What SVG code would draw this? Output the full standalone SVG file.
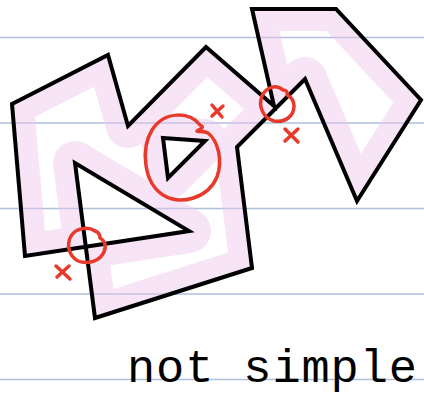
<svg xmlns="http://www.w3.org/2000/svg" width="424" height="408" viewBox="0 0 424 408">
<style>
.rule{stroke:#aebfdc;stroke-width:1.5}
.outline{fill:none;stroke:#000;stroke-width:4;stroke-linejoin:miter;stroke-miterlimit:10}
.band{fill:none;stroke:#eec6ee;stroke-width:44;stroke-linejoin:round;opacity:0.45}
.red{fill:none;stroke:#e8392b;stroke-width:3.5;stroke-linecap:round;stroke-linejoin:round}
.label{font-family:"Liberation Mono","DejaVu Sans Mono",monospace;font-size:47px;fill:#000}
</style>
<defs>
<clipPath id="inside">
<path clip-rule="evenodd" d="M12,104 L108,55 L128,126 L206,47 L274,106 L252,9 L336,9 L421,100 L357,201 L305,79 L237,147 L252,268 L95,318 L75,163 L189,231 L25,256 Z M163,138 L205,141 L168,178 Z"/>
</clipPath>
</defs>
<rect width="424" height="408" fill="#fff"/>
<g id="ruled-lines">
<line class="rule" x1="0" y1="37.5" x2="424" y2="37.5"/>
<line class="rule" x1="0" y1="123" x2="424" y2="123"/>
<line class="rule" x1="0" y1="208.5" x2="424" y2="208.5"/>
<line class="rule" x1="0" y1="294" x2="424" y2="294"/>
<line class="rule" x1="0" y1="379.5" x2="424" y2="379.5"/>
</g>
<g id="highlight" clip-path="url(#inside)">
<path class="band" d="M12,104 L108,55 L128,126 L206,47 L274,106 L252,9 L336,9 L421,100 L357,201 L305,79 L237,147 L252,268 L95,318 L75,163 L189,231 L25,256 Z M163,138 L205,141 L168,178 Z"/>
</g>
<g id="polygon">
<path class="outline" d="M12,104 L108,55 L128,126 L206,47 L274,106 L252,9 L336,9 L421,100 L357,201 L305,79 L237,147 L252,268 L95,318 L75,163 L189,231 L25,256 Z"/>
</g>
<g id="hole">
<path class="outline" d="M163,138 L205,141 L168,178 Z"/>
</g>
<g id="marks">
<path class="red" d="M200,125 C190,112 165,110 152,130 C141,148 143,182 163,195 C181,206 208,198 217,177 C223,160 218,141 208,133 C204,131 200,132 197,131 C201,129 205,127 200,125"/>
<path class="red" d="M212,105 L222,117 M223,106 L212,116"/>
<path class="red" d="M283,90 C276,84 266,87 262,96 C258,106 263,118 274,121 C285,123 294,116 294,106 C294,100 291,97 287,95 C288,92 286,90 283,90"/>
<path class="red" d="M285,129 L298,142 M298,129 L285,141"/>
<path class="red" d="M95,231 C88,226 76,228 71,236 C66,245 69,256 78,261 C88,265 100,261 104,252 C107,245 104,240 100,238 C100,235 98,232 95,231"/>
<path class="red" d="M56,266 L70,279 M69,266 L57,277"/>
</g>
<g id="label">
<text class="label" x="127" y="382" textLength="290" lengthAdjust="spacing">not simple</text>
</g>
</svg>
